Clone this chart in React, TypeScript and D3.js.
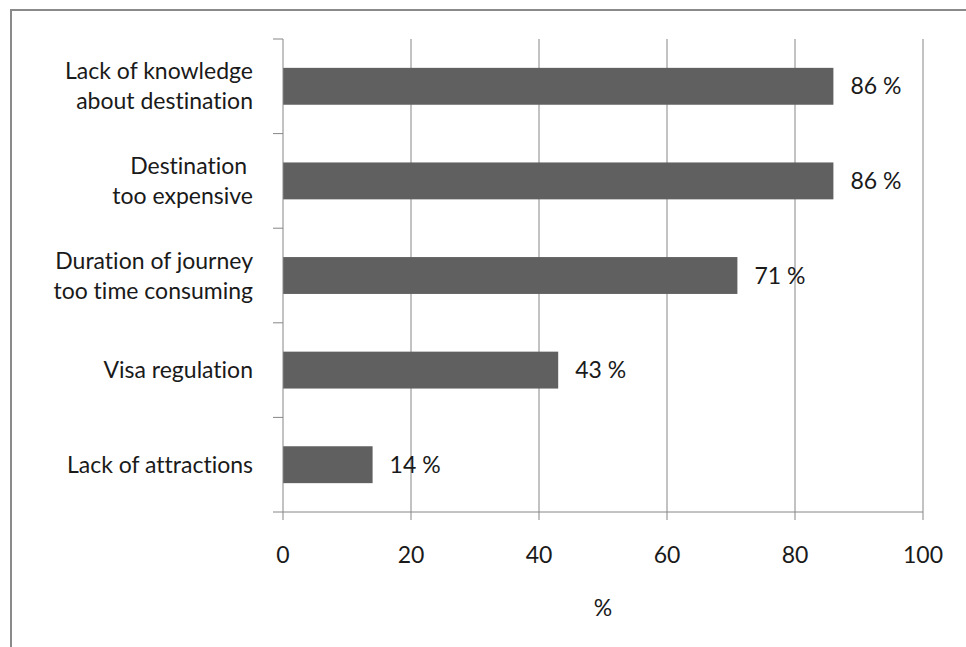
import React from "react";
import * as d3 from "d3";

// Reasons for not visiting, share of respondents (%)
const categories: string[][] = [
  ["Lack of knowledge", "about destination"],
  ["Destination ", "too expensive"],
  ["Duration of journey", "too time consuming"],
  ["Visa regulation"],
  ["Lack of attractions"],
];
const values: number[] = [86, 86, 71, 43, 14];
const xTicks: number[] = [0, 20, 40, 60, 80, 100];
const xTitle = "%";

const W = 966;
const H = 647;
const margin = { left: 283, right: 43, top: 39, bottom: 135 };
const FONT = "Lato, 'Open Sans', sans-serif";
const FS = 23;
const GRID = "#868686";
const BAR = "#606060";
const TEXT = "#1a1a1a";

export default function App() {
  const x = d3
    .scaleLinear()
    .domain([0, 100])
    .range([margin.left, W - margin.right]);
  const y = d3
    .scaleBand<number>()
    .domain(d3.range(categories.length))
    .range([margin.top, H - margin.bottom])
    .paddingInner(0.61)
    .paddingOuter(0.305);
  const bandEdges = d3.range(categories.length + 1).map(
    (i) => margin.top + (i * (H - margin.bottom - margin.top)) / categories.length
  );
  const y0 = margin.top;
  const y1 = H - margin.bottom;
  const x0 = x(0);

  return (
    <svg
      width={W}
      height={H}
      style={{ position: "absolute", left: 0, top: 0, background: "#fff", fontVariantLigatures: "none" }}
      fontFamily={FONT}
    >
      {/* chart frame */}
      <rect x={11} y={10} width={W + 20} height={H + 20} fill="#fff" stroke="#8a8a8a" strokeWidth={2} />

      {/* vertical gridlines and x ticks */}
      {xTicks.map((t) => (
        <g key={t}>
          {t > 0 && <line x1={x(t)} x2={x(t)} y1={y0} y2={y1} stroke={GRID} strokeWidth={1} />}
          <line x1={x(t)} x2={x(t)} y1={y1} y2={y1 + 8} stroke={GRID} strokeWidth={1} />
          <text x={x(t)} y={y1 + 43} dy="0.35em" textAnchor="middle" fontSize={FS} fill={TEXT}>
            {t}
          </text>
        </g>
      ))}

      {/* bars */}
      {values.map((v, i) => (
        <rect key={i} x={x0} y={y(i)!} width={x(v) - x0} height={y.bandwidth()} fill={BAR} />
      ))}

      {/* value labels */}
      {values.map((v, i) => (
        <text
          key={i}
          x={x(v) + 17}
          y={y(i)! + y.bandwidth() / 2}
          dy="0.35em"
          fontSize={FS}
          fill={TEXT}
        >
          {`${v} %`}
        </text>
      ))}

      {/* y axis */}
      <line x1={x0} x2={x0} y1={y0} y2={y1} stroke={GRID} strokeWidth={1} />
      {bandEdges.map((e, i) => (
        <line key={i} x1={x0 - 10} x2={x0} y1={e} y2={e} stroke={GRID} strokeWidth={1} />
      ))}
      {/* x axis */}
      <line x1={x0} x2={x(100)} y1={y1} y2={y1} stroke={GRID} strokeWidth={1} />

      {/* category labels */}
      {categories.map((lines, i) => {
        const c = y(i)! + y.bandwidth() / 2;
        const lh = 30;
        const start = c - ((lines.length - 1) * lh) / 2;
        return (
          <text key={i} textAnchor="end" fontSize={FS} fill={TEXT} style={{ whiteSpace: "pre" }}>
            {lines.map((l, j) => (
              <tspan key={j} x={253} y={start + j * lh} dy="0.35em">
                {l}
              </tspan>
            ))}
          </text>
        );
      })}

      {/* x axis title */}
      <text x={603} y={608} dy="0.35em" textAnchor="middle" fontSize={FS} fill={TEXT}>
        {xTitle}
      </text>
    </svg>
  );
}
